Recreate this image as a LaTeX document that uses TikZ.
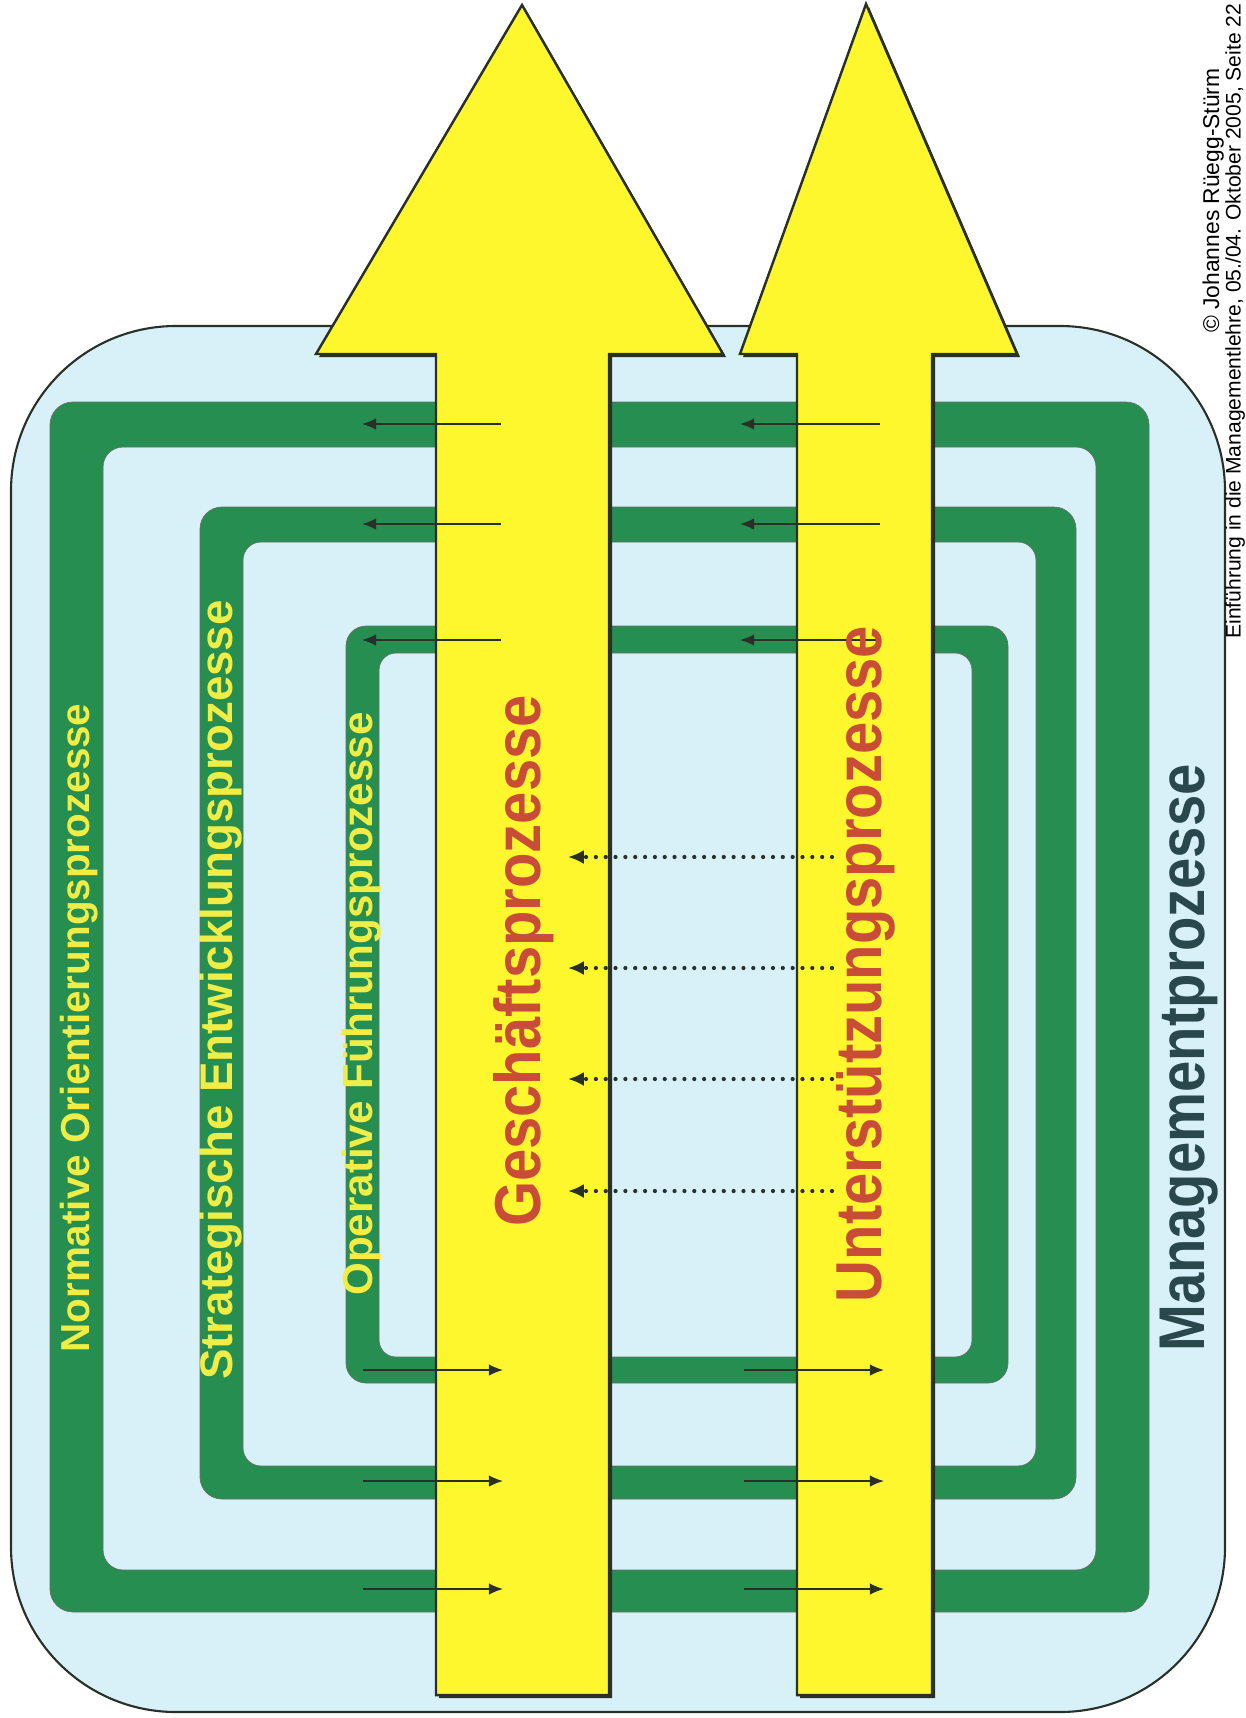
\documentclass[tikz,border=0pt]{standalone}
\usepackage{fontspec}
\setmainfont{Liberation Sans}
\usetikzlibrary{arrows.meta}
\definecolor{skyfill}{RGB}{216,241,249}
\definecolor{bandgreen}{RGB}{38,142,80}
\definecolor{arrowyellow}{RGB}{255,247,45}
\definecolor{procred}{RGB}{200,76,56}
\definecolor{labelyellow}{RGB}{240,238,70}
\definecolor{mgmtslate}{RGB}{42,72,76}
\definecolor{inkdark}{RGB}{40,48,40}
\begin{document}
\begin{tikzpicture}[
		x=0.02cm, y=-0.02cm,
		band/.style={fill=bandgreen, draw=inkdark!70, line width=0.4pt, even odd rule},
		bigarrow/.style={fill=arrowyellow, draw=inkdark, line width=1.4pt, line join=miter},
		link/.style={draw=inkdark, line width=0.9pt, -{Latex[length=8pt,width=6.5pt]}},
		dotlink/.style={draw=inkdark, line width=2.4pt, line cap=round, dash pattern=on 0pt off 5.6pt, -{Latex[length=9pt,width=8pt]}},
		bandlabel/.style={rotate=90, text=labelyellow, font=\bfseries},
		proclabel/.style={rotate=90, text=procred, font=\fontsize{33}{33}\selectfont\bfseries},
		footer/.style={rotate=90, inner sep=0pt}
	]
	\useasboundingbox (0,0) rectangle (1245,1718);

	% management frame
	\path[fill=skyfill, draw=inkdark, line width=1.2pt, rounded corners=3.3cm] (11,326) rectangle (1225,1712);

	% the three green rings
	\path[band] [rounded corners=0.46cm] (50,402) rectangle (1149,1612) [rounded corners=0.4cm] (103,447) rectangle (1096,1570);
	\path[band] [rounded corners=0.44cm] (200,507) rectangle (1076,1499) [rounded corners=0.36cm] (243,542) rectangle (1036,1466);
	\path[band] [rounded corners=0.4cm] (346,626) rectangle (1008,1383) [rounded corners=0.34cm] (379,653) rectangle (972,1357);

	% process arrows (with shadow)
	\fill[inkdark, shift={(3,3)}] (436,1695) -- (436,354) -- (316,354) -- (522,5) -- (723,354) -- (609,354) -- (609,1695) -- cycle;
	\fill[inkdark, shift={(3,3)}] (797,1695) -- (797,354) -- (740,354) -- (866,4) -- (1017,354) -- (932,354) -- (932,1695) -- cycle;
	\draw[bigarrow] (436,1695) -- (436,354) -- (316,354) -- (522,5) -- (723,354) -- (609,354) -- (609,1695) -- cycle;
	\draw[bigarrow] (797,1695) -- (797,354) -- (740,354) -- (866,4) -- (1017,354) -- (932,354) -- (932,1695) -- cycle;

	% links
	\foreach \yy/\nm in {424/a,524/b,640/c} {
		\coordinate (gsin-\nm) at (501,\yy);
		\coordinate (gsout-\nm) at (362,\yy);
		\coordinate (usin-\nm) at (880,\yy);
		\coordinate (usout-\nm) at (740,\yy);
		\draw[link] (gsin-\nm) -- (gsout-\nm);
		\draw[link] (usin-\nm) -- (usout-\nm);
	}
	\foreach \yy/\nm in {1370/a,1481/b,1589/c} {
		\coordinate (gsfrom-\nm) at (363,\yy);
		\coordinate (gsto-\nm) at (503,\yy);
		\coordinate (usfrom-\nm) at (744,\yy);
		\coordinate (usto-\nm) at (884,\yy);
		\draw[link] (gsfrom-\nm) -- (gsto-\nm);
		\draw[link] (usfrom-\nm) -- (usto-\nm);
	}
	\foreach \yy/\nm in {857/a,968/b,1079/c,1191/d} {
		\coordinate (sup-\nm) at (832,\yy);
		\coordinate (biz-\nm) at (568,\yy);
		\draw[dotlink] (sup-\nm) -- (biz-\nm);
	}

	% labels
	\node[bandlabel, font=\fontsize{23}{23}\selectfont\bfseries] (normativ) at (79,1028) {Normative Orientierungsprozesse};
	\node[bandlabel, font=\fontsize{26}{26}\selectfont\bfseries] (strategisch) at (221,990) {Strategische Entwicklungsprozesse};
	\node[bandlabel, font=\fontsize{24}{24}\selectfont\bfseries] (operativ) at (362,1004) {Operative Führungsprozesse};
	\node[proclabel] (geschaeft) at (524,961) {\scalebox{1}[1.12]{Geschäftsprozesse}};
	\node[proclabel] (unterstuetzung) at (866,964) {\scalebox{1}[1.12]{Unterstützungsprozesse}};
	\node[rotate=90, text=mgmtslate, font=\fontsize{32}{32}\selectfont\bfseries] (management) at (1189,1058) {\scalebox{1}[1.15]{Managementprozesse}};

	% footer
	\node[footer, anchor=base east, font=\fontsize{13}{13}\selectfont] (autor) at (1219,68) {© Johannes Rüegg-Stürm};
	\node[footer, anchor=base west, font=\fontsize{12}{12}\selectfont] (kurs) at (1240.5,639) {Einführung in die Managementlehre, 05./04. Oktober 2005, Seite 22};
\end{tikzpicture}
\end{document}
